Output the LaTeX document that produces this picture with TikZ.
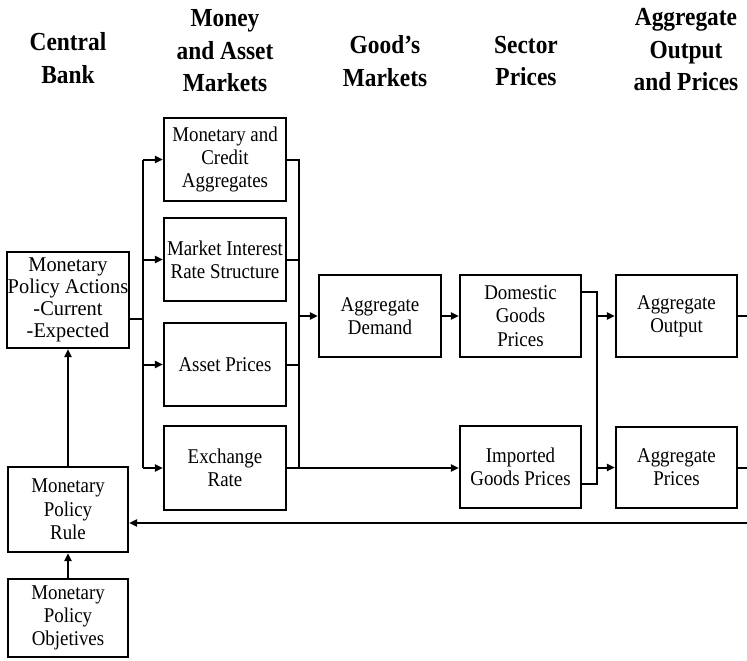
\documentclass[tikz,border=0pt]{standalone}
\usepackage{fontspec}
\setmainfont{Liberation Serif}[FakeStretch=0.9]
\newfontfamily\widefont{Liberation Serif}[FakeStretch=0.97]
\newfontfamily\hdrfont{Liberation Serif}[FakeStretch=0.9]
\usetikzlibrary{arrows.meta,calc}
\begin{document}
\begin{tikzpicture}[x=1pt,y=-1pt,
  box/.style={draw, line width=2.2pt, align=center, inner sep=1pt, font=\fontsize{21}{23.3}\selectfont},
  hdr/.style={align=center, inner sep=0pt, font=\hdrfont\bfseries\fontsize{26}{32.5}\selectfont},
  conn/.style={line width=2pt},
  arr/.style={conn, -{Triangle[length=8pt,width=7pt]}}]
\useasboundingbox (0,0) rectangle (747,661);

% headers
\node[hdr] (h1) at (68,58) {Central\\Bank};
\node[hdr] (h2) at (225,51) {Money\\and Asset\\Markets};
\node[hdr] (h3) at (385,61) {Good’s\\Markets};
\node[hdr] (h4) at (526,61) {Sector\\Prices};
\node[hdr] (h5) at (686,50) {Aggregate\\Output\\and Prices};

% boxes
\node[box, minimum width=120pt, minimum height=96pt, font=\widefont\fontsize{21}{22}\selectfont] (act) at (68,300) {Monetary\\Policy Actions\\-Current\\-Expected};
\node[box, minimum width=120pt, minimum height=85pt] (rule) at (68,509.5) {Monetary\\Policy\\Rule};
\node[box, minimum width=120pt, minimum height=78pt] (obj) at (68,618) {Monetary\\Policy\\Objetives};

\node[box, minimum width=122pt, minimum height=83pt] (mca) at (225,159.5) {Monetary and\\Credit\\Aggregates};
\node[box, minimum width=122pt, minimum height=83pt] (mirs) at (225,259.5) {Market Interest\\Rate Structure};
\node[box, minimum width=122pt, minimum height=83pt] (ap) at (225,364.5) {Asset Prices};
\node[box, minimum width=122pt, minimum height=84pt] (er) at (225,468) {Exchange\\Rate};

\node[box, minimum width=122pt, minimum height=82pt] (ad) at (380,316) {Aggregate\\Demand};
\node[box, minimum width=121pt, minimum height=82pt] (dgp) at (520.5,316) {Domestic\\Goods\\Prices};
\node[box, minimum width=121pt, minimum height=82pt] (igp) at (520.5,467) {Imported\\Goods Prices};

\node[box, minimum width=121pt, minimum height=82pt] (ao) at (676.5,316) {Aggregate\\Output};
\node[box, minimum width=121pt, minimum height=81pt] (apr) at (676.5,467.5) {Aggregate\\Prices};

% left bus
\coordinate (lb) at (143,319);
\draw[conn] (act.east |- lb) -- (lb);
\draw[conn] (lb |- mca) -- (lb |- er);
\draw[arr] (lb |- mca) -- (mca.west);
\draw[arr] (lb |- mirs) -- (mirs.west);
\draw[arr] (lb |- ap) -- (ap.west);
\draw[arr] (lb |- er) -- (er.west);

% right bus
\coordinate (rb) at (299,316);
\draw[conn] (mca.east) -- (rb |- mca) -- (rb |- er);
\draw[conn] (mirs.east) -- (rb |- mirs);
\draw[conn] (ap.east) -- (rb |- ap);
\draw[arr] (rb |- ad) -- (ad.west);
\draw[arr] (er.east) -- (er.east -| igp.west);

\draw[arr] (ad.east) -- (dgp.west);

% sector bus
\coordinate (sb) at (597,0);
\coordinate (dgpx) at ($(dgp.north east)!0.21!(dgp.south east)$);
\coordinate (igpx) at ($(igp.north east)!0.70!(igp.south east)$);
\draw[conn] (dgpx) -- (sb |- dgpx) -- (sb |- igpx) -- (igpx);
\draw[arr] (sb |- ao) -- (ao.west);
\draw[arr] (sb |- apr) -- (apr.west);

% right edge and feedback
\coordinate (edge) at (747,0);
\coordinate (fb) at (747,523);
\draw[conn] (ao.east) -- (ao.east -| edge);
\draw[conn] (apr.east) -- (apr.east -| edge);
\draw[arr] (fb) -- (fb -| rule.east);

% central bank column
\draw[arr] (rule) -- (act);
\draw[arr] (obj) -- (rule);
\end{tikzpicture}
\end{document}
